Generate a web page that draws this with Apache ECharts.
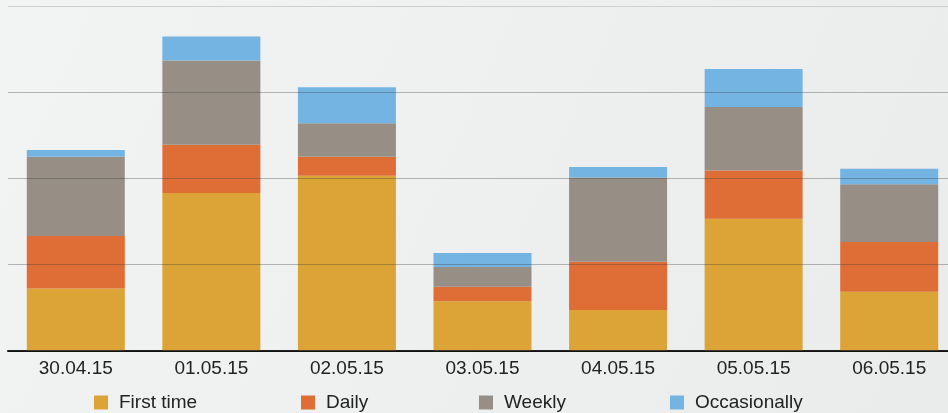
<!DOCTYPE html>
<html>
<head>
<meta charset="utf-8">
<script src="https://cdn.jsdelivr.net/npm/echarts@6/dist/echarts.min.js"></script>
<style>
  html, body { margin: 0; padding: 0; }
  #chart { width: 948px; height: 413px; }
</style>
</head>
<body>
<div id="chart"></div>
<script>
const days = ['30.04.15', '01.05.15', '02.05.15', '03.05.15', '04.05.15', '05.05.15', '06.05.15'];
const firstTime    = [72, 183, 203, 57, 47, 153, 68];
const daily        = [61, 56, 22, 17, 56, 56, 58];
const weekly       = [92, 98, 39, 23, 98, 74, 67];
const occasionally = [8, 28, 42, 16, 12, 44, 18];

const seriesNames = ['First time', 'Daily', 'Weekly', 'Occasionally'];
const colors = ['#dca437', '#de6d36', '#978f85', '#74b4e2'];
const legendLeft = [89, 296, 474, 665];

const chart = echarts.init(document.getElementById('chart'));

function bar(name, data) {
  return {
    name: name,
    type: 'bar',
    stack: 'total',
    barWidth: 98,
    z: 2,
    data: data
  };
}

// one legend per item so each sits where it does in the picture
const legends = seriesNames.map((name, i) => ({
  top: 388,
  left: legendLeft[i],
  itemWidth: 14,
  itemHeight: 14,
  icon: 'rect',
  selectedMode: false,
  textStyle: { fontSize: 19, color: '#222', padding: [0, 0, 0, 6] },
  data: [name]
}));

chart.setOption({
  backgroundColor: {
    type: 'linear', x: 0, y: 0, x2: 1, y2: 1,
    colorStops: [{ offset: 0, color: '#f2f3f3' }, { offset: 1, color: '#eaebeb' }]
  },
  color: colors,
  animation: false,
  textStyle: { fontFamily: 'Liberation Sans' },
  grid: { left: 8, top: 6.3, bottom: 62.7, right: -9, outerBoundsMode: 'none' },
  legend: legends,
  xAxis: {
    type: 'category',
    data: days,
    axisLine: { lineStyle: { color: '#111', width: 2 } },
    axisTick: { show: false },
    axisLabel: { fontSize: 19, color: '#222', margin: 9 }
  },
  yAxis: {
    type: 'value',
    min: 0,
    max: 400,
    interval: 100,
    z: 5,
    axisLabel: { show: false },
    axisLine: { show: false },
    axisTick: { show: false },
    splitLine: {
      lineStyle: {
        color: ['rgba(60,60,60,0.35)', 'rgba(60,60,60,0.35)', 'rgba(60,60,60,0.35)', 'rgba(60,60,60,0.35)', 'rgba(150,150,150,0.35)'],
        width: 1
      }
    }
  },
  series: seriesNames.map((name, i) => bar(name, [firstTime, daily, weekly, occasionally][i]))
});
</script>
</body>
</html>
